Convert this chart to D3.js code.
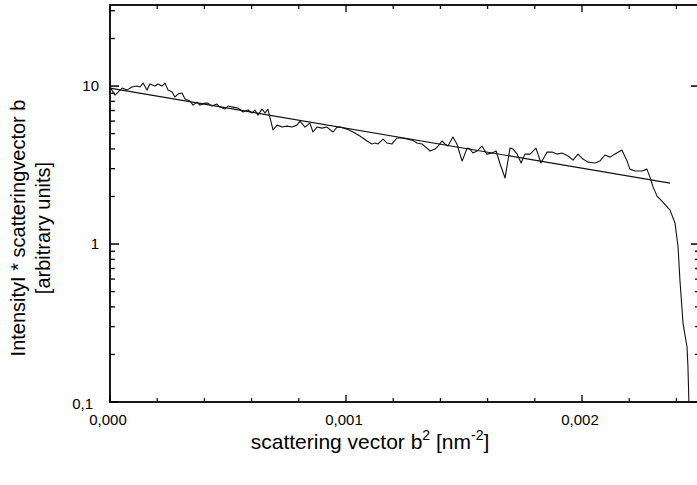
<!DOCTYPE html>
<html>
<head>
<meta charset="utf-8">
<script src="https://cdn.jsdelivr.net/npm/d3@7"></script>
<style>
  body { margin: 0; background: #fff; }
  svg { display: block; font-family: "Liberation Sans", Arial, sans-serif; }
</style>
</head>
<body>
<div id="chart"></div>
<script>
  // scattering vector b^2, in units of 10^-3 nm^-2
  var b2 = [0.002, 0.008, 0.021, 0.034, 0.051, 0.072, 0.093, 0.114, 0.127, 0.140, 0.157, 0.169, 0.191, 0.203, 0.220,
    0.233, 0.246, 0.263, 0.275, 0.288, 0.305, 0.318, 0.339, 0.352, 0.369, 0.381, 0.403, 0.415, 0.432, 0.453,
    0.466, 0.487, 0.500, 0.521, 0.542, 0.564, 0.585, 0.602, 0.614, 0.627, 0.644, 0.657, 0.669, 0.691, 0.708,
    0.729, 0.750, 0.771, 0.792, 0.805, 0.826, 0.847, 0.860, 0.877, 0.898, 0.919, 0.945, 0.962, 0.975, 1.004,
    1.030, 1.059, 1.089, 1.110, 1.123, 1.136, 1.157, 1.174, 1.195, 1.216, 1.237, 1.258, 1.280, 1.301, 1.322,
    1.343, 1.356, 1.377, 1.390, 1.407, 1.419, 1.432, 1.453, 1.470, 1.492, 1.513, 1.525, 1.538, 1.555, 1.576,
    1.597, 1.619, 1.636, 1.653, 1.674, 1.695, 1.708, 1.725, 1.742, 1.758, 1.780, 1.805, 1.826, 1.852, 1.873,
    1.894, 1.915, 1.941, 1.962, 1.983, 2.004, 2.025, 2.055, 2.076, 2.097, 2.119, 2.140, 2.169, 2.191, 2.203,
    2.225, 2.254, 2.275, 2.288, 2.301, 2.318, 2.343, 2.373, 2.394, 2.407, 2.415, 2.428, 2.445, 2.449, 2.453];

  // intensity * scattering vector b [arbitrary units]
  var intens = [9.71, 9.43, 8.77, 9.16, 9.71, 9.43, 9.86, 10.0, 9.86, 10.45, 9.43, 10.30, 10.0, 10.30, 10.0,
    10.45, 9.43, 9.16, 8.52, 8.90, 9.03, 8.27, 8.04, 7.58, 7.92, 7.58, 7.80, 7.80, 7.47, 7.69,
    7.36, 7.15, 7.47, 7.36, 7.26, 6.85, 7.05, 6.75, 7.05, 6.55, 7.15, 6.75, 7.15, 5.27, 5.66,
    5.50, 5.58, 5.50, 5.66, 6.00, 5.50, 5.83, 5.12, 5.50, 5.42, 5.50, 5.12, 5.50, 5.50, 5.34,
    5.12, 4.83, 4.49, 4.30, 4.36, 4.30, 4.62, 4.36, 4.30, 4.69, 4.69, 4.62, 4.55, 4.36, 4.30,
    4.05, 3.88, 3.99, 4.17, 4.49, 4.30, 4.17, 4.76, 4.30, 3.35, 4.05, 3.99, 3.77, 3.88, 4.17,
    3.71, 3.77, 3.88, 3.21, 2.62, 4.05, 3.99, 3.71, 3.26, 3.71, 3.71, 4.05, 3.26, 3.82, 3.82,
    3.71, 3.77, 3.61, 3.40, 3.71, 3.45, 3.30, 3.26, 3.35, 3.66, 3.55, 3.71, 3.94, 3.35, 2.98,
    2.90, 2.90, 2.98, 2.65, 2.30, 2.01, 1.84, 1.64, 1.36, 0.957, 0.59, 0.316, 0.223, 0.166, 0.10];

  // exponential fit, end points (straight on the log axis)
  var fitB2 = [0, 2.373];
  var fitI = [9.7, 2.43];

  var xMajor = [0, 1, 2];
  var xLabels = ["0,000", "0,001", "0,002"];
  var yMajor = [0.1, 1, 10];
  var yLabels = ["0,1", "1", "10"];

  var data = b2.map(function(d, i) { return {x: d, y: intens[i]}; });
  var fit = fitB2.map(function(d, i) { return {x: d, y: fitI[i]}; });

  var W = 697, H = 485;
  var pL = 110, pR = 700, pT = 5, pB = 402;

  var svg = d3.select("#chart").append("svg")
    .attr("width", W).attr("height", H);

  var x = d3.scaleLinear().domain([0, 2.5]).range([pL, pR]);
  var y = d3.scaleLog().domain([0.1, 32.6]).range([pB, pT]);

  // minor ticks
  var xMinor = d3.range(0, 2.51, 0.2).filter(function(v) { return Math.abs(v - Math.round(v)) > 1e-6; });
  var yMinor = [];
  [0.1, 1, 10].forEach(function(dec) {
    for (var k = 2; k <= 9; k++) { if (dec * k < 32.6) yMinor.push(dec * k); }
  });

  var axes = svg.append("g").attr("stroke", "#000");

  function tickLines(vals, len, fn) {
    vals.forEach(function(v) { fn(v, len); });
  }
  // bottom + top
  tickLines(xMajor, 7, function(v, len) {
    axes.append("line").attr("x1", x(v)).attr("x2", x(v)).attr("y1", pB).attr("y2", pB - len).attr("stroke-width", 1.3);
    axes.append("line").attr("x1", x(v)).attr("x2", x(v)).attr("y1", pT).attr("y2", pT + len).attr("stroke-width", 1.3);
  });
  tickLines(xMinor, 4, function(v, len) {
    axes.append("line").attr("x1", x(v)).attr("x2", x(v)).attr("y1", pB).attr("y2", pB - len).attr("stroke-width", 1.2);
    axes.append("line").attr("x1", x(v)).attr("x2", x(v)).attr("y1", pT).attr("y2", pT + len).attr("stroke-width", 1.2);
  });
  // left + right (right side only partly visible in the scan)
  tickLines(yMajor, 9, function(v, len) {
    axes.append("line").attr("y1", y(v)).attr("y2", y(v)).attr("x1", pL).attr("x2", pL + len).attr("stroke-width", 1.5);
    axes.append("line").attr("y1", y(v)).attr("y2", y(v)).attr("x1", pR).attr("x2", pR - len).attr("stroke-width", 1.5);
  });
  tickLines(yMinor, 5, function(v, len) {
    axes.append("line").attr("y1", y(v)).attr("y2", y(v)).attr("x1", pL).attr("x2", pL + len).attr("stroke-width", 1.3);
    if (v < 1) {
      axes.append("line").attr("y1", y(v)).attr("y2", y(v)).attr("x1", pR).attr("x2", pR - len).attr("stroke-width", 1.3);
    }
  });

  // frame
  axes.append("rect")
    .attr("x", pL).attr("y", pT)
    .attr("width", pR - pL).attr("height", pB - pT)
    .attr("fill", "none").attr("stroke-width", 1.8);

  // curves
  var line = d3.line().x(function(d) { return x(d.x); }).y(function(d) { return y(d.y); });

  svg.append("path").datum(fit)
    .attr("d", line).attr("fill", "none")
    .attr("stroke", "#111").attr("stroke-width", 1.1);

  svg.append("path").datum(data)
    .attr("d", line).attr("fill", "none")
    .attr("stroke", "#111").attr("stroke-width", 1.1)
    .attr("stroke-linejoin", "round");

  // tick labels
  svg.selectAll(".xl").data(xMajor).enter().append("text")
    .attr("x", function(d) { return x(d) - 2; })
    .attr("y", 425)
    .attr("text-anchor", "middle")
    .attr("font-size", 15)
    .text(function(d, i) { return xLabels[i]; });

  svg.selectAll(".yl").data(yMajor).enter().append("text")
    .attr("x", function(d) { return d < 1 ? 93 : 99; })
    .attr("y", function(d) { return y(d) + (d < 1 ? 7 : 5); })
    .attr("text-anchor", "end")
    .attr("font-size", 15)
    .text(function(d, i) { return yLabels[i]; });

  // axis titles
  var xt = svg.append("text")
    .attr("x", 370).attr("y", 449)
    .attr("text-anchor", "middle")
    .attr("font-size", 21);
  xt.append("tspan").text("scattering vector b");
  xt.append("tspan").attr("dy", -9).attr("font-size", 14).text("2");
  xt.append("tspan").attr("dy", 9).text(" [nm");
  xt.append("tspan").attr("dy", -9).attr("font-size", 14).text("-2");
  xt.append("tspan").attr("dy", 9).text("]");

  var yt = svg.append("g").attr("transform", "translate(0,228) rotate(-90)");
  yt.append("text").attr("x", 0).attr("y", 25)
    .attr("text-anchor", "middle").attr("font-size", 20)
    .text("IntensityI * scatteringvector b");
  yt.append("text").attr("x", 0).attr("y", 50)
    .attr("text-anchor", "middle").attr("font-size", 20)
    .text("[arbitrary units]");
</script>
</body>
</html>
